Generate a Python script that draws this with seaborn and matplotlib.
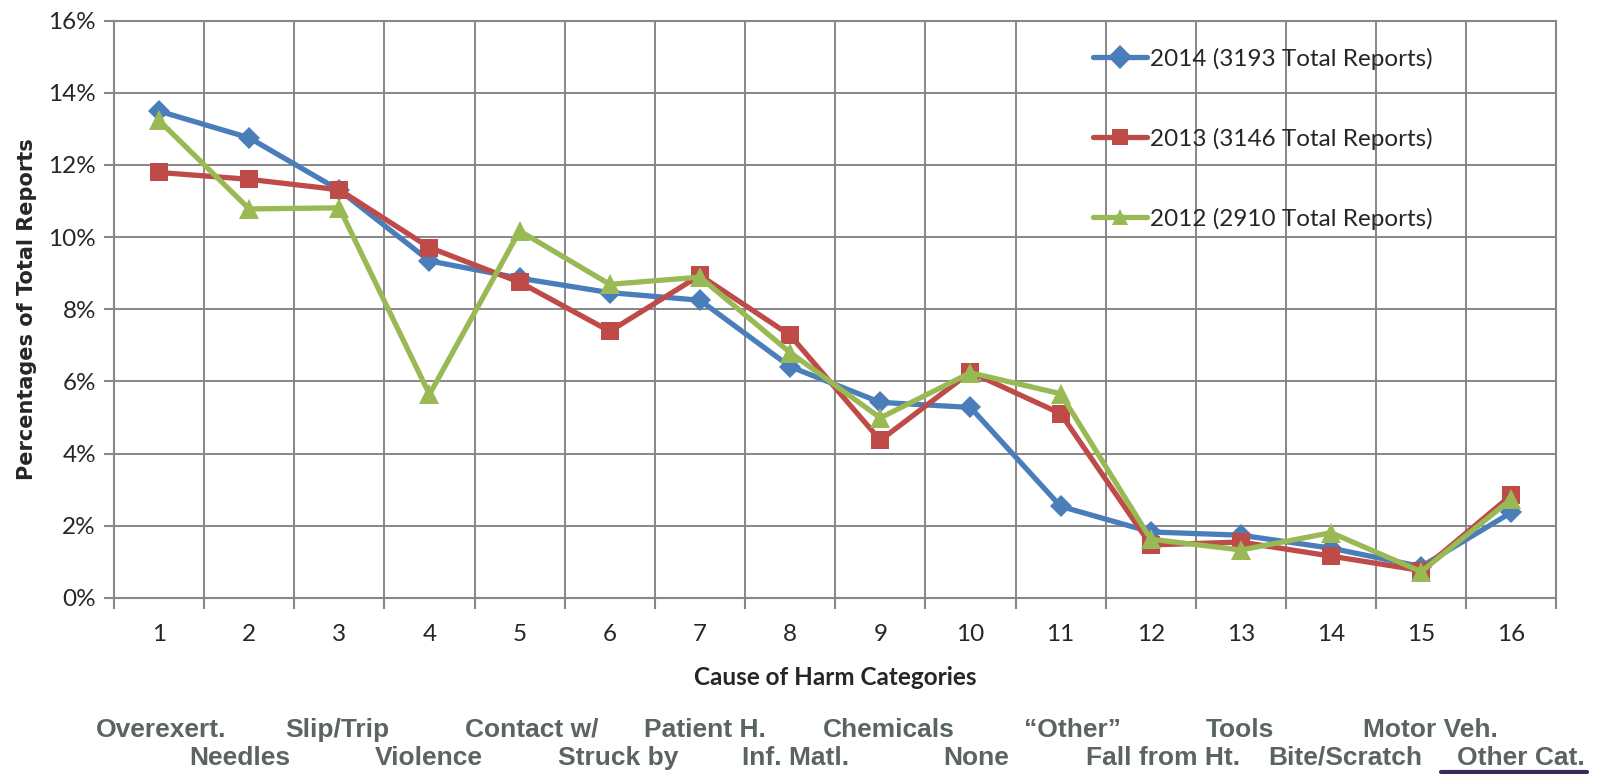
"""
Cause of harm categories: share of total reports, 2012-2014.
"""

import matplotlib
matplotlib.use("Agg")
import matplotlib.pyplot as plt
import matplotlib.transforms as mtransforms
from matplotlib.lines import Line2D
import numpy as np
import pandas as pd
import seaborn as sns

# --- data (percent of total reports) ---
categories = list(range(1, 17))
pct_2014 = [13.49, 12.75, 11.30, 9.34, 8.86, 8.46, 8.25, 6.41, 5.42, 5.28,
            2.54, 1.83, 1.74, 1.38, 0.87, 2.37]
pct_2013 = [11.79, 11.60, 11.31, 9.71, 8.75, 7.39, 8.94, 7.28, 4.37, 6.26,
            5.11, 1.47, 1.55, 1.16, 0.76, 2.85]
pct_2012 = [13.23, 10.78, 10.81, 5.64, 10.17, 8.69, 8.89, 6.80, 4.99, 6.24,
            5.66, 1.63, 1.33, 1.81, 0.73, 2.74]
series_names = ["2014 (3193 Total Reports)",
                "2013 (3146 Total Reports)",
                "2012 (2910 Total Reports)"]
category_names = ["Overexert.", "Needles", "Slip/Trip", "Violence",
                  "Contact w/", "Struck by", "Patient H.", "Inf. Matl.",
                  "Chemicals", "None", "\u201cOther\u201d", "Fall from Ht.",
                  "Tools", "Bite/Scratch", "Motor Veh.", "Other Cat."]
y_ticks = [0, 2, 4, 6, 8, 10, 12, 14, 16]

df = pd.DataFrame({
    "cat": categories * 3,
    "pct": pct_2014 + pct_2013 + pct_2012,
    "series": [s for s in series_names for _ in categories],
})

colors = ["#4a7ebb", "#be4b48", "#98b954"]
grid_col = "#878787"
label_font = ["Lato", "DejaVu Sans"]

sns.set_theme(style="white")
plt.rcParams["font.family"] = label_font

fig = plt.figure(figsize=(15.98, 7.74), dpi=100)
ax = fig.add_axes([0.0713, 0.2274, 0.9027, 0.7461])

sns.lineplot(
    data=df, x="cat", y="pct", hue="series", style="series",
    hue_order=series_names, style_order=series_names,
    palette=colors, markers=["D", "s", "^"], dashes=False,
    linewidth=3.8, markersize=12, markeredgewidth=0, ax=ax,
)
# marker sizes per series closer to the original
for line, ms in zip(ax.get_lines()[:3], [11.5, 13.5, 14.5]):
    line.set_markersize(ms)

ax.set_xlim(0.5, 16.5)
ax.set_ylim(0, 16)

# gridlines on category boundaries, labels at centres
bounds = np.arange(0.5, 17, 1.0)
ax.set_xticks(bounds)
ax.set_xticklabels([])
ax.set_xticks(categories, minor=True)
ax.set_xticklabels([str(c) for c in categories], minor=True, fontsize=17.5)
ax.tick_params(axis="x", which="major", length=8, width=1.5,
               color=grid_col, direction="out", bottom=True)
ax.tick_params(axis="x", which="minor", length=0, pad=19)

ax.set_yticks(y_ticks)
ax.set_yticklabels([f"{v}%" for v in y_ticks], fontsize=17.5)
ax.tick_params(axis="y", length=7, width=1.5, color=grid_col,
               direction="out", left=True, pad=6)

ax.grid(True, which="major", color=grid_col, linewidth=1.4)
ax.set_axisbelow(True)
for sp in ax.spines.values():
    sp.set_color(grid_col)
    sp.set_linewidth(1.5)

ax.set_ylabel("Percentages of Total Reports", fontsize=15,
              fontweight="bold", family="DejaVu Sans", labelpad=8)
ax.set_xlabel("Cause of Harm Categories", fontsize=17.5, fontweight="bold",
              labelpad=15)

# legend, no frame, widely spaced like the original
ax.legend(loc="upper left", bbox_to_anchor=(0.679, 0.953), frameon=False,
          fontsize=17.5, handlelength=2.2, handletextpad=0.12,
          labelspacing=2.38, borderaxespad=0, borderpad=0)

# category names under the axis, staggered in two rows
offsets = [0.02, -0.1, -0.02, -0.01, 0.13, 0.09, 0.05, 0.06,
           0.1, 0.06, 0.13, 0.14, -0.01, 0.16, 0.1, 0.1]
rows = [0, 1] * 8
trans = mtransforms.blended_transform_factory(ax.transData, fig.transFigure)
for i, (name, off, row) in enumerate(zip(category_names, offsets, rows)):
    ax.text(categories[i] + off, 0.057 if row == 0 else 0.021, name,
            transform=trans, ha="center", va="center", fontsize=19,
            fontweight="bold", color="#5b6560",
            family=["Liberation Sans", "DejaVu Sans"])

fig.add_artist(Line2D([0.902, 0.993], [0.0025, 0.0025],
                      transform=fig.transFigure, color="#3a2a5c", lw=3))

fig.savefig("out.png", dpi=100)
